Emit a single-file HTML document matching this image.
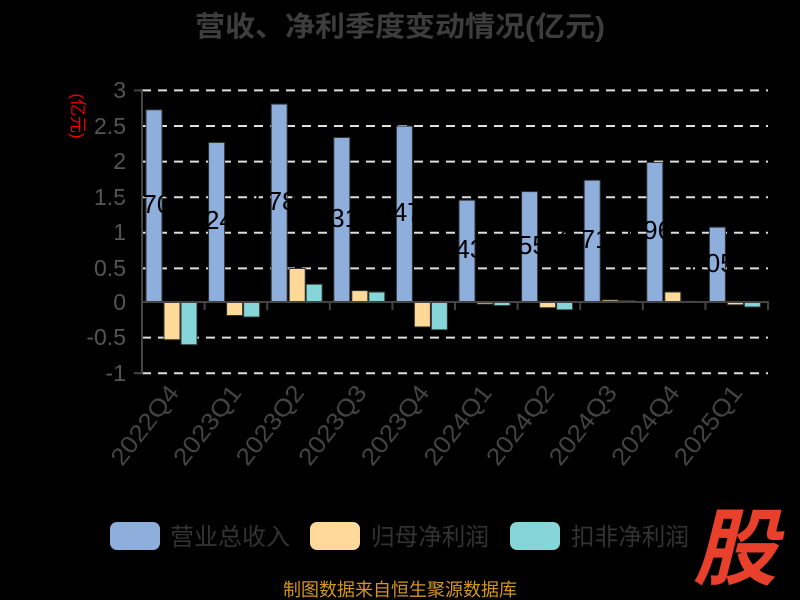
<!DOCTYPE html>
<html><head><meta charset="utf-8"><style>
html,body{margin:0;padding:0;background:#000;}
svg{display:block;font-family:"Liberation Sans","Noto Sans CJK SC",sans-serif;}
</style></head><body>
<svg width="800" height="600" viewBox="0 0 800 600" xmlns="http://www.w3.org/2000/svg">
<rect width="800" height="600" fill="#000"/>
<text x="400" y="36" font-size="28" font-weight="bold" fill="#3d3d3d" text-anchor="middle" textLength="410" lengthAdjust="spacingAndGlyphs">营收、净利季度变动情况(亿元)</text>
<text transform="translate(72,116) rotate(90)" font-size="17" fill="#e00" text-anchor="middle">(亿元)</text>
<g stroke="#ddd" stroke-width="2" stroke-dasharray="9,7">
<line x1="142" x2="768" y1="90.4" y2="90.4"/>
<line x1="142" x2="768" y1="126" y2="126"/>
<line x1="142" x2="768" y1="161.6" y2="161.6"/>
<line x1="142" x2="768" y1="197.2" y2="197.2"/>
<line x1="142" x2="768" y1="232.8" y2="232.8"/>
<line x1="142" x2="768" y1="268.4" y2="268.4"/>
<line x1="142" x2="768" y1="337.6" y2="337.6"/>
<line x1="142" x2="768" y1="373.2" y2="373.2"/>
</g>
<g font-size="23" fill="#555" text-anchor="end">
<text x="126" y="98">3</text><text x="126" y="134">2.5</text><text x="126" y="169">2</text>
<text x="126" y="205">1.5</text><text x="126" y="240">1</text><text x="126" y="276">0.5</text>
<text x="126" y="310">0</text><text x="126" y="345">-0.5</text><text x="126" y="381">-1</text>
</g>
<g stroke="#333" stroke-width="1">
<g fill="#8eaedc">
<rect x="146" y="109.8" width="16" height="192.2"/><rect x="208.6" y="142.5" width="16" height="159.5"/>
<rect x="271.2" y="104.1" width="16" height="197.9"/><rect x="333.8" y="137.5" width="16" height="164.5"/>
<rect x="396.4" y="126.1" width="16" height="175.9"/><rect x="459" y="200.2" width="16" height="101.8"/>
<rect x="521.6" y="191.6" width="16" height="110.4"/><rect x="584.2" y="180.2" width="16" height="121.8"/>
<rect x="646.8" y="162.4" width="16" height="139.6"/><rect x="709.4" y="227.2" width="16" height="74.8"/>
</g>
<g fill="#ffd99a">
<rect x="164" y="302" width="16" height="37.7"/><rect x="226.6" y="302" width="16" height="13.5"/>
<rect x="289.2" y="268.5" width="16" height="33.5"/><rect x="351.8" y="290.6" width="16" height="11.4"/>
<rect x="414.4" y="302" width="16" height="24.9"/><rect x="477" y="302" width="16" height="2.1"/>
<rect x="539.6" y="302" width="16" height="5.7"/><rect x="602.2" y="299.9" width="16" height="2.1"/>
<rect x="664.8" y="292" width="16" height="10"/><rect x="727.4" y="302" width="16" height="2.8"/>
</g>
<g fill="#86d5d8">
<rect x="181" y="302" width="16" height="42.7"/><rect x="243.6" y="302" width="16" height="15"/>
<rect x="306.2" y="284.2" width="16" height="17.8"/><rect x="368.8" y="292" width="16" height="10"/>
<rect x="431.4" y="302" width="16" height="27.8"/><rect x="494" y="302" width="16" height="3.6"/>
<rect x="556.6" y="302" width="16" height="7.8"/><rect x="619.2" y="300.6" width="16" height="1.4"/>
<rect x="681.8" y="301.3" width="16" height="0.7"/><rect x="744.4" y="302" width="16" height="5"/>
</g>
</g>
<g font-size="26" fill="#000" text-anchor="middle" dominant-baseline="middle">
<text x="146" y="206">2.70</text><text x="208.6" y="222">2.24</text><text x="271.2" y="203">2.78</text>
<text x="333.8" y="220">2.31</text><text x="396.4" y="214">2.47</text><text x="459" y="251">1.43</text>
<text x="521.6" y="247">1.55</text><text x="584.2" y="241">1.71</text><text x="646.8" y="232">1.96</text>
<text x="709.4" y="265">1.05</text>
</g>
<g stroke="#444" stroke-width="2">
<line x1="142" y1="90" x2="142" y2="374"/>
<line x1="134" y1="90.4" x2="142" y2="90.4"/><line x1="134" y1="373.2" x2="142" y2="373.2"/>
<line x1="142" y1="302" x2="769" y2="302"/>
<line x1="142" y1="302" x2="142" y2="310"/><line x1="204.6" y1="302" x2="204.6" y2="310"/>
<line x1="267.2" y1="302" x2="267.2" y2="310"/><line x1="329.8" y1="302" x2="329.8" y2="310"/>
<line x1="392.4" y1="302" x2="392.4" y2="310"/><line x1="455" y1="302" x2="455" y2="310"/>
<line x1="517.6" y1="302" x2="517.6" y2="310"/><line x1="580.2" y1="302" x2="580.2" y2="310"/>
<line x1="642.8" y1="302" x2="642.8" y2="310"/><line x1="705.4" y1="302" x2="705.4" y2="310"/>
<line x1="768" y1="302" x2="768" y2="310"/>
</g>
<g font-size="24" fill="#444" text-anchor="end">
<text transform="translate(180,393) rotate(-52)" textLength="94" lengthAdjust="spacingAndGlyphs">2022Q4</text>
<text transform="translate(242.6,393) rotate(-52)" textLength="94" lengthAdjust="spacingAndGlyphs">2023Q1</text>
<text transform="translate(305.2,393) rotate(-52)" textLength="94" lengthAdjust="spacingAndGlyphs">2023Q2</text>
<text transform="translate(367.8,393) rotate(-52)" textLength="94" lengthAdjust="spacingAndGlyphs">2023Q3</text>
<text transform="translate(430.4,393) rotate(-52)" textLength="94" lengthAdjust="spacingAndGlyphs">2023Q4</text>
<text transform="translate(493,393) rotate(-52)" textLength="94" lengthAdjust="spacingAndGlyphs">2024Q1</text>
<text transform="translate(555.6,393) rotate(-52)" textLength="94" lengthAdjust="spacingAndGlyphs">2024Q2</text>
<text transform="translate(618.2,393) rotate(-52)" textLength="94" lengthAdjust="spacingAndGlyphs">2024Q3</text>
<text transform="translate(680.8,393) rotate(-52)" textLength="94" lengthAdjust="spacingAndGlyphs">2024Q4</text>
<text transform="translate(743.4,393) rotate(-52)" textLength="94" lengthAdjust="spacingAndGlyphs">2025Q1</text>
</g>
<rect x="110" y="522" width="50" height="28" rx="7" fill="#8eaedc"/>
<rect x="310" y="522" width="50" height="28" rx="7" fill="#ffd99a"/>
<rect x="510" y="522" width="50" height="28" rx="7" fill="#86d5d8"/>
<g font-size="24" fill="#333">
<text x="170" y="545" textLength="120" lengthAdjust="spacingAndGlyphs">营业总收入</text>
<text x="371" y="545" textLength="118" lengthAdjust="spacingAndGlyphs">归母净利润</text>
<text x="571" y="545" textLength="118" lengthAdjust="spacingAndGlyphs">扣非净利润</text>
</g>
<text x="735" y="578" font-size="84" font-weight="bold" font-style="italic" fill="#e8402a" text-anchor="middle">股</text>
<text x="400" y="596" font-size="18" fill="#d4961e" text-anchor="middle" textLength="234" lengthAdjust="spacingAndGlyphs">制图数据来自恒生聚源数据库</text>
</svg>
</body></html>
